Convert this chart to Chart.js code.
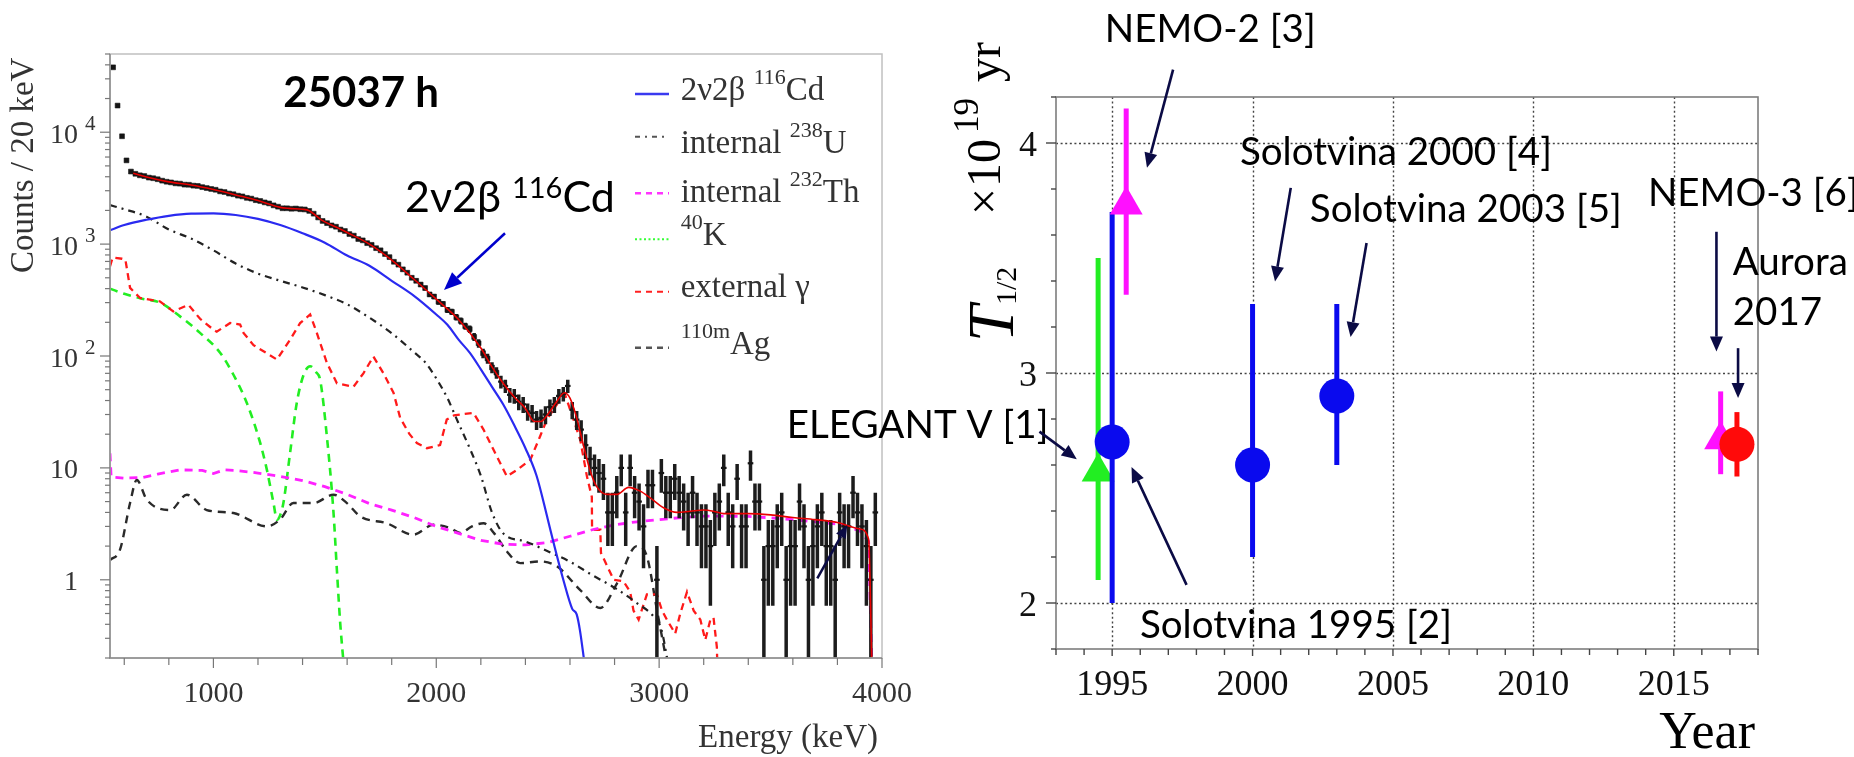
<!DOCTYPE html>
<html>
<head>
<meta charset="utf-8">
<title>116Cd 2ν2β spectrum and half-life measurements</title>
<script src="https://cdn.jsdelivr.net/npm/chart.js@4.4.1/dist/chart.umd.min.js"></script>
<style>
  html, body { margin: 0; padding: 0; background: #ffffff; }
  #stage { position: relative; width: 1854px; height: 757px; overflow: hidden; background: #ffffff; }
  #stage canvas { position: absolute; left: 0; top: 0; }
</style>
</head>
<body>
<div id="stage">
  <canvas id="spectrum" width="1854" height="757"></canvas>
  <canvas id="halflife" width="1854" height="757"></canvas>
</div>
<script>
// ================= LEFT PANEL : energy spectrum =================
const binWidth = 20;          // keV
const firstBinCentre = 550;   // keV
// measured counts per 20 keV bin (550 ... 3970 keV)
const counts = [
  38000, 17300, 9200, 5600, 4450, 4250, 4120, 4060, 3930, 3880,
  3800, 3690, 3610, 3560, 3490, 3470, 3400, 3390, 3330, 3310,
  3230, 3170, 3110, 3060, 2960, 2920, 2830, 2790, 2710, 2670,
  2590, 2550, 2470, 2430, 2360, 2310, 2220, 2160, 2090, 2090,
  2070, 2080, 2050, 2040, 1980, 1870, 1730, 1610, 1540, 1470,
  1430, 1350, 1310, 1230, 1190, 1110, 1080, 1020, 985, 920,
  880, 815, 765, 695, 655, 595, 555, 500, 470, 435,
  405, 355, 340, 305, 292, 258, 248, 222, 206, 185,
  174, 148, 130, 106, 95, 79, 71, 59, 54, 45,
  44, 39, 37, 32, 31, 27, 28, 30, 35, 37,
  44, 46, 54, 33, 27, 22, 16, 12, 10, 9,
  8, 4, 4, 6, 10, 4, 10, 6, 5, 3,
  7, 7, 1, 9, 6, 6, 8, 6, 5, 4,
  6, 4, 3, 3, 2, 4, 5, 10, 4, 3,
  8, 3, 3, 11, 5, 5, 1, 2, 2, 3,
  4, 1, 2, 2, 5, 3, 1, 2, 3, 4,
  2, 2, 1, 4, 3, 3, 6, 4, 3, 2,
  1, 4
];
const binCentres = counts.map((_, i) => firstBinCentre + i * binWidth);

// total fit (red solid)
const fitEnergy = [640,700,800,900,1000,1100,1200,1300,1340,1400,1430,1460,1490,1550,1600,1700,1800,1900,2000,2100,2200,2250,2300,2350,2400,2440,2470,2500,2540,2575,2600,2630,2660,2690,2720,2766,2811,2863,2915,2960,3020,3080,3140,3200,3244,3290,3400,3500,3600,3700,3800,3900,3940,3955];
const fitCounts = [4300,3980,3600,3380,3080,2750,2450,2130,2085,2050,1990,1800,1620,1420,1270,1000,720,485,322,212,118,80,57,43,34,26,26,30,39,47,42,28,16,9.5,6.8,5.8,5.8,6.7,6.2,5.4,4.4,4.0,4.1,4.2,4.1,3.9,3.9,3.8,3.6,3.45,3.25,2.85,2.3,0.15];
// 2ν2β 116Cd (blue)
const cdEnergy = [536,600,700,800,900,1000,1100,1200,1300,1400,1500,1600,1700,1800,1900,2000,2050,2100,2150,2200,2250,2300,2350,2400,2450,2500,2530,2570,2610,2630,2645,2665];
const cdCounts = [1330,1480,1650,1790,1870,1880,1820,1680,1480,1250,1030,790,640,470,345,235,190,140,107,76,53,37,24,15,8.5,3.5,2.0,1.0,0.55,0.49,0.35,0.18];
// internal 238U (black dash-dot)
const uEnergy = [536,600,700,800,900,1000,1100,1200,1300,1400,1500,1600,1700,1800,1900,1950,2000,2050,2100,2150,2200,2250,2300,2400,2500,2600,2700,2800,2900,2975,3010,3040];
const uCounts = [2230,2050,1760,1350,1120,880,670,545,470,410,350,290,220,160,108,88,63,42,25,15,8.5,4.0,2.6,2.2,1.8,1.45,1.1,0.85,0.62,0.47,0.36,0.18];
// internal 232Th (magenta dashed)
const thEnergy = [536,541,600,680,750,850,950,1000,1050,1100,1200,1300,1400,1500,1600,1700,1800,1900,2000,2100,2200,2300,2400,2500,2600,2700,2800,2900,3000,3100,3200,3300,3400,3500,3600,3700,3800,3900,3940,3955];
const thCounts = [13.5,8.3,8.1,8.2,8.8,9.6,9.5,8.9,9.6,9.5,9.0,8.4,7.7,6.8,5.8,4.8,4.2,3.6,3.0,2.6,2.25,2.08,2.05,2.15,2.45,2.8,3.1,3.3,3.45,3.6,3.7,3.7,3.68,3.58,3.45,3.3,3.15,2.75,2.2,0.15];
// 40K (green dashed)
const kEnergy = [536,600,680,760,850,940,1030,1090,1150,1210,1240,1270,1285,1300,1314,1344,1374,1405,1434,1460,1479,1509,1539,1554,1569,1584];
const kCounts = [400,360,325,300,226,161,107,68,38,16.7,9.6,4.8,3.45,3.8,4.85,13.6,38,68,81,72,61,19.2,3.95,1.23,0.41,0.18];
// external γ (red dashed)
const gEnergy = [536,548,560,590,605,626,671,761,820,888,940,1000,1015,1075,1120,1135,1180,1285,1344,1389,1434,1464,1509,1554,1628,1673,1718,1763,1808,1838,1880,1913,1958,2017,2047,2080,2107,2167,2212,2257,2317,2362,2422,2466,2496,2556,2578,2616,2646,2676,2698,2699,2736,2739,2796,2840,2870,2885,2908,2945,2990,3013,3035,3072,3095,3125,3155,3185,3207,3230,3244,3259,3262];
const gCounts = [633,760,753,740,728,406,330,307,250,287,215,172,165,197,191,161,125,93,140,197,235,161,87,57,53,70,99,70,47,28,20,16.7,15,16,27,29.5,30,31,22,14.5,8.4,9.6,11.8,19.2,27,41,45,27,17.8,8.4,5.5,2.8,2.8,1.74,1.0,0.97,0.78,0.53,0.44,0.74,0.74,0.53,0.44,0.33,0.5,0.78,0.53,0.44,0.29,0.44,0.46,0.25,0.15];
// 110mAg (black dashed)
const agEnergy = [536,581,626,656,701,806,881,970,1090,1240,1299,1359,1449,1539,1599,1659,1778,1898,1987,2062,2107,2160,2212,2260,2317,2377,2466,2541,2646,2736,2811,2900,2945,2990,3035];
const agCounts = [1.5,1.86,4.85,7.8,5.2,4.2,5.76,4.2,3.95,3.0,3.45,4.85,4.85,5.76,4.85,3.68,3.2,2.53,3.1,2.9,2.62,3.0,3.2,2.6,1.79,1.41,1.46,1.32,0.81,0.56,0.93,2.0,1.62,0.54,0.18];

const specXRange = [536, 4000];
const specYRange = [0.2, 50000];
const specXTicks = [1000, 2000, 3000, 4000];
const specYTicks = [1, 10, 100, 1000, 10000];
const specYTickBase = ['1', '10', '10', '10', '10'];
const specYTickExp = ['', '', '2', '3', '4'];

// annotations of the left panel (data coordinates: keV, counts)
const spectrumTitle = '25037 h';
const spectrumTitleAt = [1313.6, 16900];
const cdLabelAt = [1859.7, 1950];
const cdArrow = [[2308.4, 1250], [2034.6, 389]];
const tailArrow = [[3709.6, 1.03], [3844.2, 3.09]];

const legendPieces = [
  [['2ν2β ', 0], ['116', 1], ['Cd', 0]],
  [['internal ', 0], ['238', 1], ['U', 0]],
  [['internal ', 0], ['232', 1], ['Th', 0]],
  [['40', 1], ['K', 0]],
  [['external γ', 0]],
  [['110m', 1], ['Ag', 0]]
];

// ================= RIGHT PANEL : half-life measurements =================
const experiments = ['ELEGANT V [1]', 'Solotvina 1995 [2]', 'NEMO-2 [3]', 'Solotvina 2000 [4]', 'Solotvina 2003 [5]', 'NEMO-3 [6]', 'Aurora 2017'];
const expYear     = [1994.5, 1995.0, 1995.5, 2000.0, 2003.0, 2016.67, 2017.25];
const expHalfLife = [2.57, 2.70, 3.73, 2.60, 2.90, 2.71, 2.69];
const expLower    = [2.10, 2.00, 3.34, 2.20, 2.60, 2.56, 2.55];
const expUpper    = [3.50, 3.70, 4.15, 3.30, 3.30, 2.92, 2.83];

const yearRange = [1993, 2018];
const halfLifeRange = [1.8, 4.2];
const yearTicks = [1995, 2000, 2005, 2010, 2015];
const halfLifeTicks = [2, 3, 4];

const noteText = ['NEMO-2 [3]', 'Solotvina 2000 [4]', 'Solotvina 2003 [5]', 'NEMO-3 [6]', 'Aurora', '2017', 'ELEGANT V [1]', 'Solotvina 1995 [2]'];
const noteYear = [1994.74, 1999.55, 2002.04, 2014.08, 2017.10, 2017.10, 1983.41, 1995.99];
const noteT    = [4.441, 3.906, 3.658, 3.724, 3.427, 3.210, 2.717, 1.847];
const arrowFrom = [[1997.17, 4.319], [2001.36, 3.805], [2004.06, 3.565], [2016.52, 3.614], [2017.29, 3.108], [1992.41, 2.745], [1997.65, 2.079]];
const arrowTo   = [[1996.24, 3.892], [2000.80, 3.398], [2003.49, 3.156], [2016.52, 3.093], [2017.29, 2.891], [1993.74, 2.625], [1995.69, 2.591]];

// ================= styles =================
const SERIF = '"Liberation Serif", "Times New Roman", serif';
const SANS = 'Lato, "Open Sans", "Noto Sans", sans-serif';
const expColor  = ['#22ee22', '#0a0aee', '#ff10ff', '#0a0aee', '#0a0aee', '#ff10ff', '#ff0a0a'];
const expMarker = ['triangle', 'circle', 'triangle', 'circle', 'circle', 'triangle', 'circle'];
const NAVY = '#0b0b45';

const pts = (E, V) => E.map((e, i) => ({ x: e, y: V[i] }));

function arrow(ctx, x1, y1, x2, y2, color, lw, headLen, headW) {
  const ang = Math.atan2(y2 - y1, x2 - x1);
  const bx = x2 - headLen * Math.cos(ang), by = y2 - headLen * Math.sin(ang);
  ctx.save();
  ctx.setLineDash([]);
  ctx.strokeStyle = color; ctx.fillStyle = color; ctx.lineWidth = lw;
  ctx.beginPath(); ctx.moveTo(x1, y1); ctx.lineTo(bx, by); ctx.stroke();
  ctx.beginPath();
  ctx.moveTo(x2, y2);
  ctx.lineTo(bx + headW / 2 * Math.sin(ang), by - headW / 2 * Math.cos(ang));
  ctx.lineTo(bx - headW / 2 * Math.sin(ang), by + headW / 2 * Math.cos(ang));
  ctx.closePath(); ctx.fill();
  ctx.restore();
}

function drawPieces(ctx, pieces, x, y, mainFont, supFont, raise) {
  let cx = x;
  for (const [t, sup] of pieces) {
    ctx.font = sup ? supFont : mainFont;
    ctx.fillText(t, cx, sup ? y - raise : y);
    cx += ctx.measureText(t).width;
  }
  return cx;
}

// ---------- left panel decoration plugin ----------
const spectrumDecor = {
  id: 'spectrumDecor',
  afterDatasetsDraw(chart) {
    const { ctx, chartArea: a, scales: { x, y } } = chart;
    ctx.save();
    ctx.setLineDash([]);
    // frame
    ctx.lineWidth = 1.5;
    ctx.strokeStyle = '#c0c0c0';
    ctx.strokeRect(a.left, a.top, a.right - a.left, a.bottom - a.top);
    ctx.strokeStyle = '#8c8c8c';
    ctx.beginPath(); ctx.moveTo(a.left, a.top); ctx.lineTo(a.left, a.bottom); ctx.lineTo(a.right, a.bottom); ctx.stroke();
    // log ticks
    ctx.lineWidth = 1.2; ctx.strokeStyle = '#777';
    for (let e = -1; e <= 4; e++) {
      for (let m = 1; m < 10; m++) {
        const v = m * Math.pow(10, e);
        if (v < specYRange[0] * 0.999 || v > specYRange[1] * 1.001) continue;
        const py = y.getPixelForValue(v);
        const len = m === 1 ? 10 : 5;
        ctx.beginPath(); ctx.moveTo(a.left - len, py); ctx.lineTo(a.left, py); ctx.stroke();
      }
    }
    for (let v = 600; v <= specXRange[1]; v += 200) {
      const px = x.getPixelForValue(v);
      const len = v % 1000 === 0 ? 10 : 7;
      ctx.beginPath(); ctx.moveTo(px, a.bottom); ctx.lineTo(px, a.bottom + len); ctx.stroke();
    }
    // tick labels
    ctx.fillStyle = '#333';
    ctx.textBaseline = 'alphabetic';
    specYTicks.forEach((v, i) => {
      const py = y.getPixelForValue(v);
      ctx.font = '28px ' + SERIF; ctx.textAlign = 'right';
      ctx.fillText(specYTickBase[i], a.left - 32, py + 10.5);
      if (specYTickExp[i]) {
        ctx.font = '21px ' + SERIF; ctx.textAlign = 'left';
        ctx.fillText(specYTickExp[i], a.left - 25, py - 2);
      }
    });
    ctx.font = '30px ' + SERIF; ctx.textAlign = 'center';
    specXTicks.forEach(v => ctx.fillText(String(v), x.getPixelForValue(v), a.bottom + 43.5));
    // axis titles
    ctx.font = '33px ' + SERIF; ctx.textAlign = 'right';
    ctx.fillText('Energy (keV)', a.right - 4, a.bottom + 88.5);
    ctx.save();
    ctx.translate(a.left - 77, a.bottom - 385);
    ctx.rotate(-Math.PI / 2);
    ctx.textAlign = 'left';
    ctx.fillText('Counts / 20 keV', 0, 0);
    ctx.restore();
    // legend
    const lineY = [40, 82.7, 139.3, 185.3, 237.7, 293.7];
    const textY = [46, 98.7, 148.3, 191, 243.3, 300];
    const legColor = ['#3a3af0', '#555', '#ff33ff', '#33ff33', '#ff2020', '#555'];
    const legDash = [[], [5, 5, 2, 5], [6, 5], [2, 2.5], [6, 5], [6, 5]];
    const legWidth = [2.5, 2, 2.5, 2, 2, 2.5];
    ctx.textAlign = 'left';
    legendPieces.forEach((p, i) => {
      ctx.save();
      ctx.strokeStyle = legColor[i]; ctx.lineWidth = legWidth[i]; ctx.setLineDash(legDash[i]);
      ctx.beginPath(); ctx.moveTo(a.left + 525, a.top + lineY[i]); ctx.lineTo(a.left + 559, a.top + lineY[i]); ctx.stroke();
      ctx.restore();
      ctx.fillStyle = '#333';
      drawPieces(ctx, p, a.left + 570.7, a.top + textY[i], '33px ' + SERIF, '22px ' + SERIF, 16);
    });
    // annotations
    ctx.fillStyle = '#000';
    ctx.font = 'bold 42px ' + SANS;
    ctx.fillText(spectrumTitle, x.getPixelForValue(spectrumTitleAt[0]), y.getPixelForValue(spectrumTitleAt[1]));
    drawPieces(ctx, [['2ν2β ', 0], ['116', 1], ['Cd', 0]],
      x.getPixelForValue(cdLabelAt[0]), y.getPixelForValue(cdLabelAt[1]), '43px ' + SANS, '29px ' + SANS, 14);
    arrow(ctx, x.getPixelForValue(cdArrow[0][0]), y.getPixelForValue(cdArrow[0][1]),
      x.getPixelForValue(cdArrow[1][0]), y.getPixelForValue(cdArrow[1][1]), '#0000cc', 2.5, 18, 15);
    arrow(ctx, x.getPixelForValue(tailArrow[0][0]), y.getPixelForValue(tailArrow[0][1]),
      x.getPixelForValue(tailArrow[1][0]), y.getPixelForValue(tailArrow[1][1]), NAVY, 2.5, 13, 11);
    ctx.restore();
  }
};

const errorSegments = [];
binCentres.forEach((e, i) => {
  const c = counts[i], s = Math.sqrt(c);   // Poisson error bars of each bin
  errorSegments.push({ x: e, y: Math.max(c - s, 0.05) }, { x: e, y: c + s }, { x: e, y: NaN });
});

const curve = (E, V, color, width, dash, order, smooth) => ({
  type: 'line', data: pts(E, V), borderColor: color, borderWidth: width, borderDash: dash,
  pointRadius: 0, fill: false, order, tension: 0,
  cubicInterpolationMode: smooth ? 'monotone' : 'default'
});

new Chart(document.getElementById('spectrum'), {
  type: 'line',
  data: {
    datasets: [
      curve(fitEnergy, fitCounts, '#e80000', 1.6, [], 0, true),
      {
        type: 'line', data: pts(binCentres, counts), showLine: false, order: 1,
        pointStyle: c => (c.raw && c.raw.y >= 60) ? 'rect' : 'line',
        pointRadius: c => (c.raw && c.raw.y >= 60) ? 3.4 : 2.8,
        pointBorderWidth: c => (c.raw && c.raw.y >= 60) ? 0.6 : 2.2,
        pointBackgroundColor: '#151515', pointBorderColor: '#151515'
      },
      { type: 'line', data: errorSegments, borderColor: '#1c1c1c', borderWidth: 3.5, pointRadius: 0, spanGaps: false, order: 2 },
      curve(cdEnergy, cdCounts, '#2a2af0', 2.2, [], 3, true),
      curve(uEnergy, uCounts, '#222', 2.2, [7, 5, 2, 5], 4, true),
      curve(thEnergy, thCounts, '#ff22ff', 2.8, [8, 6], 5, false),
      curve(gEnergy, gCounts, '#ff1a1a', 2.3, [7, 5], 6, false),
      curve(kEnergy, kCounts, '#22ee22', 2.6, [8, 6], 7, true),
      curve(agEnergy, agCounts, '#2a2a2a', 2.4, [8, 6], 8, true)
    ]
  },
  options: {
    responsive: false, animation: false, devicePixelRatio: 1, events: [],
    layout: { padding: { left: 110, top: 54, right: 1854 - 882, bottom: 757 - 658 } },
    plugins: { legend: { display: false }, tooltip: { enabled: false }, title: { display: false } },
    scales: {
      x: { type: 'linear', min: specXRange[0], max: specXRange[1], display: false },
      y: { type: 'logarithmic', min: specYRange[0], max: specYRange[1], display: false }
    }
  },
  plugins: [spectrumDecor]
});

// ---------- right panel decoration plugin ----------
const halfLifeDecor = {
  id: 'halfLifeDecor',
  beforeDatasetsDraw(chart) {
    const { ctx, chartArea: a, scales: { x, y } } = chart;
    ctx.save();
    ctx.strokeStyle = '#444'; ctx.lineWidth = 1.4; ctx.setLineDash([2, 2.6]);
    yearTicks.forEach(v => {
      const px = Math.round(x.getPixelForValue(v)) + 0.5;
      ctx.beginPath(); ctx.moveTo(px, a.top); ctx.lineTo(px, a.bottom); ctx.stroke();
    });
    halfLifeTicks.forEach(v => {
      const py = Math.round(y.getPixelForValue(v)) + 0.5;
      ctx.beginPath(); ctx.moveTo(a.left, py); ctx.lineTo(a.right, py); ctx.stroke();
    });
    ctx.restore();
  },
  afterDatasetsDraw(chart) {
    const { ctx, chartArea: a, scales: { x, y } } = chart;
    ctx.save();
    ctx.setLineDash([]);
    ctx.strokeStyle = '#7d7d7d'; ctx.lineWidth = 1.6;
    ctx.strokeRect(a.left, a.top, a.right - a.left, a.bottom - a.top);
    // ticks
    ctx.strokeStyle = '#444'; ctx.lineWidth = 1.4;
    for (let v = yearRange[0]; v <= yearRange[1]; v++) {
      const px = x.getPixelForValue(v);
      const len = v % 5 === 0 ? 7 : 6;
      ctx.beginPath(); ctx.moveTo(px, a.bottom); ctx.lineTo(px, a.bottom + len); ctx.stroke();
    }
    for (let k = 0; k <= 12; k++) {
      const v = halfLifeRange[0] + k * 0.2;
      const py = y.getPixelForValue(v);
      const major = Math.abs(v - Math.round(v)) < 1e-6;
      ctx.beginPath(); ctx.moveTo(a.left - (major ? 10 : 5), py); ctx.lineTo(a.left, py); ctx.stroke();
    }
    // tick labels
    ctx.fillStyle = '#111'; ctx.textBaseline = 'alphabetic';
    ctx.font = '36px ' + SERIF; ctx.textAlign = 'center';
    yearTicks.forEach(v => ctx.fillText(String(v), x.getPixelForValue(v), a.bottom + 46));
    ctx.textAlign = 'right';
    halfLifeTicks.forEach(v => ctx.fillText(String(v), a.left - 19, y.getPixelForValue(v) + 12.5));
    // axis titles
    ctx.fillStyle = '#000';
    ctx.font = '52px ' + SERIF; ctx.textAlign = 'right';
    ctx.fillText('Year', a.right - 3, a.bottom + 99);
    ctx.save();
    ctx.translate(a.left - 56, a.top + 245);
    ctx.rotate(-Math.PI / 2);
    ctx.textAlign = 'left';
    ctx.font = 'italic 66px ' + SERIF; ctx.fillText('T', 0, 13);
    ctx.font = '30px ' + SERIF; ctx.fillText('1/2', 37, 16);
    ctx.font = '48px ' + SERIF; ctx.fillText('×', 127, 0); ctx.fillText('10', 155, 0);
    ctx.font = '35px ' + SERIF; ctx.fillText('19', 209, -22);
    ctx.font = '48px ' + SERIF; ctx.fillText('yr', 260, 0);
    ctx.restore();
    // annotations
    ctx.font = '40px ' + SANS;
    const ref = ctx.measureText('Solotvina 2000 [4]').width;
    const size = 40 * 312 / ref;
    ctx.font = size.toFixed(2) + 'px ' + SANS;
    ctx.textAlign = 'left'; ctx.fillStyle = '#000';
    noteText.forEach((t, i) => ctx.fillText(t, x.getPixelForValue(noteYear[i]), y.getPixelForValue(noteT[i])));
    arrowFrom.forEach((f, i) => {
      const t = arrowTo[i];
      arrow(ctx, x.getPixelForValue(f[0]), y.getPixelForValue(f[1]), x.getPixelForValue(t[0]), y.getPixelForValue(t[1]), NAVY, 2.6, 15, 13);
    });
    ctx.restore();
  }
};

const hlDatasets = [];
experiments.forEach((name, i) => {
  hlDatasets.push({
    label: name + ' error', type: 'line',
    data: [{ x: expYear[i], y: expLower[i] }, { x: expYear[i], y: expUpper[i] }],
    borderColor: expColor[i], borderWidth: 5, pointRadius: 0, order: 40 - 2 * i
  });
  hlDatasets.push({
    label: name, type: 'line', showLine: false,
    data: [{ x: expYear[i], y: expHalfLife[i] }],
    pointStyle: expMarker[i], pointRadius: expMarker[i] === 'circle' ? 17.5 : 19,
    pointBackgroundColor: expColor[i], pointBorderColor: expColor[i], pointBorderWidth: 0,
    order: 39 - 2 * i
  });
});

new Chart(document.getElementById('halflife'), {
  type: 'line',
  data: { datasets: hlDatasets },
  options: {
    responsive: false, animation: false, devicePixelRatio: 1, events: [],
    layout: { padding: { left: 1056, top: 97, right: 1854 - 1758, bottom: 757 - 649 } },
    plugins: { legend: { display: false }, tooltip: { enabled: false }, title: { display: false } },
    scales: {
      x: { type: 'linear', min: yearRange[0], max: yearRange[1], display: false },
      y: { type: 'linear', min: halfLifeRange[0], max: halfLifeRange[1], display: false }
    }
  },
  plugins: [halfLifeDecor]
});
</script>
</body>
</html>
